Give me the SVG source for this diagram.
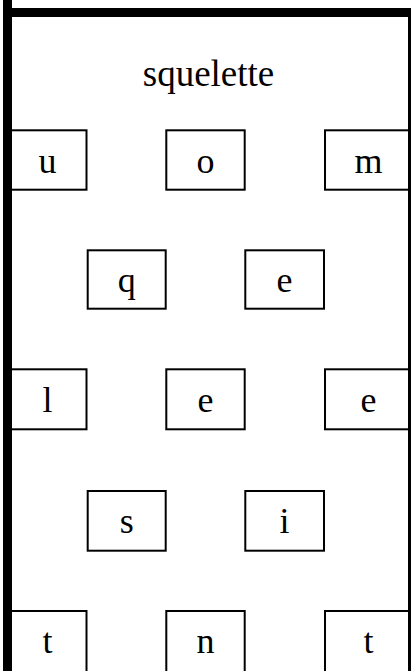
<svg xmlns="http://www.w3.org/2000/svg" width="411" height="671" viewBox="0 0 411 671">
<style>
.box{fill:#fff;stroke:#000;stroke-width:2}
.lbl{font-family:"Liberation Serif","Times New Roman","DejaVu Serif",serif;font-size:36px;fill:#000;text-anchor:middle}
</style>
<rect x="0" y="0" width="411" height="671" fill="#fff"/>
<g id="frame">
<rect x="7.5" y="12.5" width="405" height="700" fill="#fff" stroke="#000" stroke-width="9"/>
<text class="lbl" x="208.5" y="86" font-family="Liberation Serif, serif" style="font-size:37px">squelette</text>
</g>
<g id="connectors"></g>
<g id="n-u"><rect class="box" x="7" y="130.3" width="79.5" height="59.4"/><text class="lbl" x="47.5" y="172.5">u</text></g>
<g id="n-o"><rect class="box" x="166.3" y="130.3" width="78.4" height="59.4"/><text class="lbl" x="205.6" y="172.5">o</text></g>
<g id="n-m"><rect class="box" x="325" y="130.3" width="84" height="59.4"/><text class="lbl" x="368.5" y="172.5">m</text></g>
<g id="n-q"><rect class="box" x="87.7" y="250.3" width="78" height="58.4"/><text class="lbl" x="126.7" y="292">q</text></g>
<g id="n-e1"><rect class="box" x="245.3" y="250.3" width="78.7" height="58.4"/><text class="lbl" x="284.6" y="292">e</text></g>
<g id="n-l"><rect class="box" x="7" y="369.3" width="79.5" height="60"/><text class="lbl" x="47.5" y="412">l</text></g>
<g id="n-e2"><rect class="box" x="166.3" y="369.3" width="78.4" height="60"/><text class="lbl" x="205.6" y="412">e</text></g>
<g id="n-e3"><rect class="box" x="325" y="369.3" width="84" height="60"/><text class="lbl" x="368.5" y="412">e</text></g>
<g id="n-s"><rect class="box" x="87.7" y="491" width="78" height="59.7"/><text class="lbl" x="126.7" y="533">s</text></g>
<g id="n-i"><rect class="box" x="245.3" y="491" width="78.7" height="59.7"/><text class="lbl" x="284.6" y="533">i</text></g>
<g id="n-t1"><rect class="box" x="7" y="611" width="79.5" height="70"/><text class="lbl" x="47.5" y="653">t</text></g>
<g id="n-n"><rect class="box" x="166.3" y="611" width="78.4" height="70"/><text class="lbl" x="205.6" y="653">n</text></g>
<g id="n-t2"><rect class="box" x="325" y="611" width="84" height="70"/><text class="lbl" x="368.5" y="653">t</text></g>
<rect x="3" y="0" width="9" height="671" fill="#000"/>
<rect x="408" y="8" width="3" height="663" fill="#000"/>
</svg>
